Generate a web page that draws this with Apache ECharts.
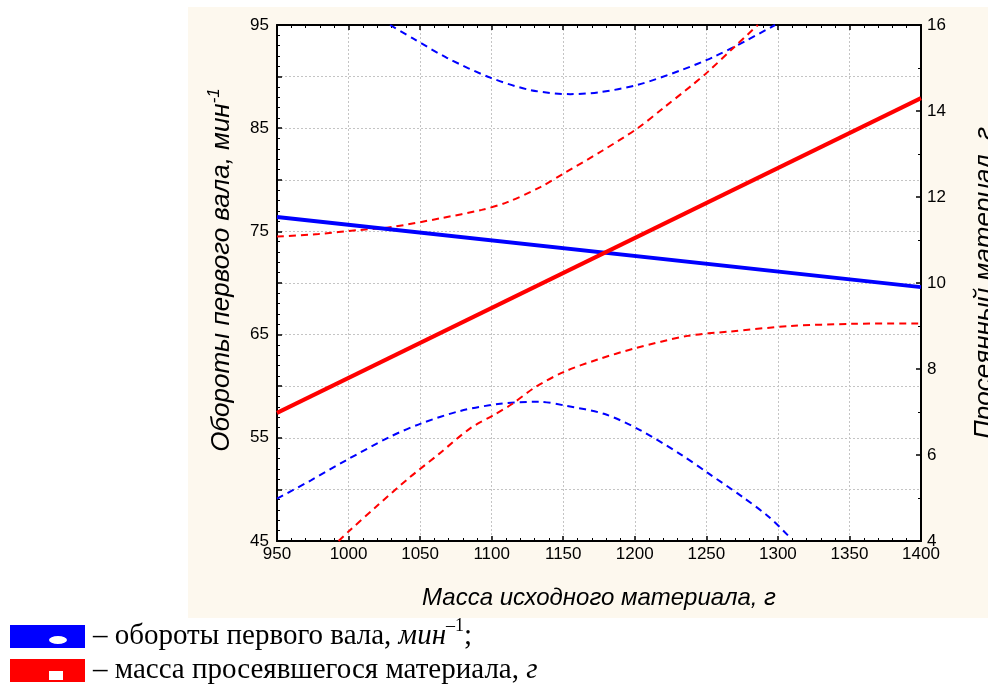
<!DOCTYPE html>
<html>
<head>
<meta charset="utf-8">
<script src="https://cdn.jsdelivr.net/npm/echarts@6/dist/echarts.min.js"></script>
<style>
  html, body { margin: 0; padding: 0; background: #fff; }
  #chart { width: 988px; height: 688px; }
</style>
</head>
<body>
<div id="chart"></div>
<script>
// регрессионные прямые (x – масса исходного материала, г)
const fitX = [950, 1400]
const rpmFit = [76.4, 69.6]      // обороты первого вала, мин-1 (левая ось)
const siftFit = [6.98, 14.3]     // масса просеявшегося материала, г (правая ось)

// доверительные границы для оборотов
const rpmUpperX = [1029, 1045, 1069, 1099, 1127, 1155, 1176, 1202, 1232, 1255, 1278, 1298]
const rpmUpperY = [95.0, 93.7, 91.8, 89.9, 88.7, 88.3, 88.5, 89.2, 90.6, 91.9, 93.5, 95.0]
const rpmLowerX = [950, 974, 998, 1029, 1051, 1078, 1106, 1133, 1152, 1179, 1203, 1232, 1251, 1275, 1294, 1308]
const rpmLowerY = [49.1, 50.9, 52.8, 55.1, 56.4, 57.6, 58.3, 58.5, 58.1, 57.3, 55.8, 53.4, 51.6, 49.3, 47.3, 45.4]

// доверительные границы для просеянного материала
const siftUpperX = [950, 979, 1007, 1030, 1065, 1093, 1111, 1134, 1151, 1177, 1202, 1220, 1240, 1251, 1269, 1286]
const siftUpperY = [11.08, 11.14, 11.23, 11.30, 11.51, 11.70, 11.88, 12.23, 12.56, 13.07, 13.60, 14.07, 14.60, 14.91, 15.47, 16.0]
const siftLowerX = [993, 1000, 1020, 1042, 1063, 1085, 1102, 1114, 1131, 1151, 1174, 1200, 1237, 1266, 1309, 1352, 1400]
const siftLowerY = [4.0, 4.22, 4.82, 5.46, 6.02, 6.62, 6.94, 7.18, 7.59, 7.94, 8.22, 8.48, 8.77, 8.87, 9.00, 9.05, 9.06]

const rpmName = 'обороты первого вала'
const siftName = 'масса просеявшегося материала'

const pairs = (xs, ys) => xs.map((x, i) => [x, ys[i]])

const BLUE = '#0000ff'
const RED = '#ff0000'
const sans = 'Liberation Sans, Arial, sans-serif'
const serif = 'Liberation Serif, Times New Roman, serif'

const gridLine = { show: true, lineStyle: { color: '#c4c4c4', type: [2, 2], width: 1 } }
const blackLine = { show: true, lineStyle: { color: '#000', width: 2 } }
const majorTick = { show: true, inside: true, length: 5, lineStyle: { color: '#000', width: 1.5 } }

const chart = echarts.init(document.getElementById('chart'))

const option = {
  backgroundColor: '#fff',
  animation: false,
  graphic: [
    {
      type: 'rect', z: -10, silent: true,
      shape: { x: 188, y: 7, width: 800, height: 611 },
      style: { fill: '#fdf8ee' }
    }
  ],
  grid: {
    left: 277, right: 67, top: 25, bottom: 147,
    outerBoundsMode: 'none',
    show: true, backgroundColor: '#fff', borderColor: '#000', borderWidth: 1
  },
  legend: {
    orient: 'vertical',
    left: 10, top: 617, height: 200, padding: 0,
    itemWidth: 75, itemHeight: 23, itemGap: 5,
    selectedMode: false,
    itemStyle: { borderWidth: 0 },
    data: [
      { name: rpmName, icon: 'path://M0 0H75V23H0Z M39 15A9 4 0 1 0 57 15A9 4 0 1 0 39 15Z' },
      { name: siftName, icon: 'path://M0 0H75V23H0Z M39 12V21H53V12Z' }
    ],
    formatter: name => name === rpmName
      ? '{d|–}{t| обороты первого вала, }{i|мин}{s|–1}{t|;}'
      : '{d|–}{t| масса просеявшегося материала, }{i|г}',
    textStyle: {
      rich: {
        d: { fontFamily: serif, fontSize: 29, color: '#000', lineHeight: 39, padding: [0, 0, 0, 3] },
        t: { fontFamily: serif, fontSize: 29, color: '#000', lineHeight: 39 },
        i: { fontFamily: serif, fontSize: 29, color: '#000', fontStyle: 'italic', lineHeight: 39 },
        s: { fontFamily: serif, fontSize: 18, color: '#000', lineHeight: 20, verticalAlign: 'top' }
      }
    }
  },
  xAxis: [
    {
      type: 'value', min: 950, max: 1400, interval: 50,
      name: 'Масса исходного материала, г',
      nameLocation: 'middle', nameGap: 45,
      nameTextStyle: { fontFamily: sans, fontSize: 24, fontStyle: 'italic', color: '#000' },
      axisLine: blackLine,
      axisTick: majorTick,
      minorTick: { show: true, splitNumber: 5, length: 3, lineStyle: { color: '#000', width: 1 } },
      axisLabel: { fontFamily: sans, fontSize: 17, color: '#000', margin: 5, formatter: v => String(v) },
      splitLine: gridLine
    },
    {
      type: 'value', position: 'top', min: 950, max: 1400, interval: 50,
      axisLine: blackLine,
      axisTick: majorTick,
      minorTick: { show: true, splitNumber: 5, length: 3, lineStyle: { color: '#000', width: 1 } },
      axisLabel: { show: false },
      splitLine: { show: false }
    }
  ],
  yAxis: [
    {
      type: 'value', min: 45, max: 95, interval: 5,
      name: '{a|Обороты первого вала, мин}{s|-1}',
      nameLocation: 'middle', nameGap: 39, nameRotate: 90,
      nameTextStyle: {
        padding: [0, 0, 0, 26],
        rich: {
          a: { fontFamily: sans, fontSize: 26, fontStyle: 'italic', color: '#000', lineHeight: 32 },
          s: { fontFamily: sans, fontSize: 17, fontStyle: 'italic', color: '#000', lineHeight: 12, verticalAlign: 'top' }
        }
      },
      axisLine: blackLine,
      axisTick: majorTick,
      minorTick: { show: true, splitNumber: 5, length: 3, lineStyle: { color: '#000', width: 1 } },
      axisLabel: {
        fontFamily: sans, fontSize: 17, color: '#000', margin: 8,
        formatter: v => ((v - 45) % 10 === 0 ? String(v) : '')
      },
      splitLine: gridLine
    },
    {
      type: 'value', position: 'right', min: 4, max: 16, interval: 2,
      name: 'Просеянный материал, г',
      nameLocation: 'middle', nameGap: 51, nameRotate: 90,
      nameTextStyle: { fontFamily: sans, fontSize: 26, fontStyle: 'italic', color: '#000' },
      axisLine: blackLine,
      axisTick: majorTick,
      minorTick: { show: true, splitNumber: 2, length: 3, lineStyle: { color: '#000', width: 1 } },
      axisLabel: { fontFamily: sans, fontSize: 17, color: '#000', margin: 6 },
      splitLine: { show: false }
    }
  ],
  series: [
    {
      name: rpmName, type: 'line', yAxisIndex: 0, symbol: 'none',
      itemStyle: { color: BLUE }, lineStyle: { color: BLUE, width: 4 },
      data: pairs(fitX, rpmFit), z: 5
    },
    {
      name: rpmName + ' верх', type: 'line', yAxisIndex: 0, symbol: 'none', smooth: 0.3,
      lineStyle: { color: BLUE, width: 2, type: [7, 5] },
      data: pairs(rpmUpperX, rpmUpperY)
    },
    {
      name: rpmName + ' низ', type: 'line', yAxisIndex: 0, symbol: 'none', smooth: 0.3,
      lineStyle: { color: BLUE, width: 2, type: [7, 5] },
      data: pairs(rpmLowerX, rpmLowerY)
    },
    {
      name: siftName, type: 'line', yAxisIndex: 1, symbol: 'none',
      itemStyle: { color: RED }, lineStyle: { color: RED, width: 4 },
      data: pairs(fitX, siftFit), z: 5
    },
    {
      name: siftName + ' верх', type: 'line', yAxisIndex: 1, symbol: 'none', smooth: 0.3,
      lineStyle: { color: RED, width: 2, type: [7, 5] },
      data: pairs(siftUpperX, siftUpperY)
    },
    {
      name: siftName + ' низ', type: 'line', yAxisIndex: 1, symbol: 'none', smooth: 0.3,
      lineStyle: { color: RED, width: 2, type: [7, 5] },
      data: pairs(siftLowerX, siftLowerY)
    }
  ]
}

chart.setOption(option)
</script>
</body>
</html>
